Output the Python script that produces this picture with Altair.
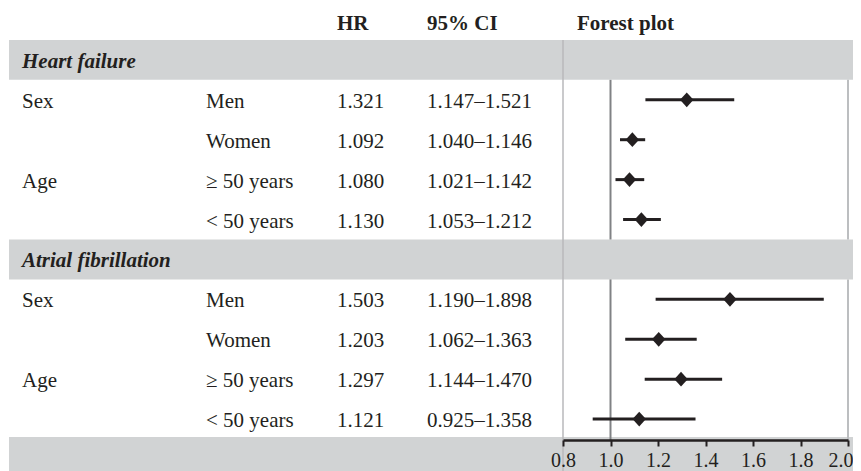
import altair as alt
import pandas as pd

# ---------------- data ----------------
groups = ["Heart failure", "Atrial fibrillation"]
factors = ["Sex", "", "Age", ""]
subgroups = ["Men", "Women", "≥ 50 years", "< 50 years"]
hr = [1.321, 1.092, 1.080, 1.130, 1.503, 1.203, 1.297, 1.121]
lo = [1.147, 1.040, 1.021, 1.053, 1.190, 1.062, 1.144, 0.925]
hi = [1.521, 1.146, 1.142, 1.212, 1.898, 1.363, 1.470, 1.358]
headers = ["HR", "95% CI", "Forest plot"]
ticks = [0.8, 1.0, 1.2, 1.4, 1.6, 1.8, 2.0]

# ---------------- table ----------------
rows = []
group_rows = []
r = 1
k = 0
for g in groups:
    group_rows.append({"row": r, "label": g})
    r += 1
    for j in range(len(subgroups)):
        rows.append({
            "row": r,
            "factor": factors[j],
            "sub": subgroups[j],
            "hr": hr[k], "lo": lo[k], "hi": hi[k],
            "hr_txt": f"{hr[k]:.3f}",
            "ci_txt": f"{lo[k]:.3f}–{hi[k]:.3f}",
        })
        r += 1
        k += 1
df = pd.DataFrame(rows)
gdf = pd.DataFrame(group_rows)
hdf = pd.DataFrame({"row": [0, 0, 0], "label": headers, "col": [0, 1, 2]})

W, H = 845, 432
FONT = "Liberation Serif"
INK = "#231f20"
BAND = "#d1d3d4"

y_scale = alt.Scale(domain=[-0.3, 10.524], reverse=True, nice=False, zero=False)
x_scale = alt.Scale(domain=[0.8, 2.0], range=[555, 840], nice=False, zero=False)
x_axis = alt.Axis(
    values=ticks, format=".1f", orient="bottom", title=None, zindex=2,
    grid=False, domainColor=INK, domainWidth=2.5, tickColor=INK,
    tickWidth=2, tickSize=6, labelFont=FONT, labelFontSize=20,
    labelColor=INK, labelPadding=4, labelFlush=False, labelOverlap=False,
    labelAlign={"condition": {"test": "datum.value >= 1.99", "value": "right"}, "value": "center"},
    labelOffset={"condition": {"test": "datum.value >= 1.99", "value": 5}, "value": 0},
)

bands = pd.DataFrame({"y0": [0.5, 5.5, 10.45], "y1": [1.5, 6.5, 11.4]})
band_layer = alt.Chart(bands).mark_rect(color=BAND).encode(
    x=alt.value(1), x2=alt.value(W),
    y=alt.Y("y0:Q", scale=y_scale, axis=None), y2="y1:Q")

left_line = pd.DataFrame({"x": [0.8], "y0": [0.5], "y1": [11.4]})
ref_lines = pd.DataFrame({"x": [1.0, 1.0], "y0": [1.5, 6.5], "y1": [5.5, 10.524]})
right_lines = pd.DataFrame({"x": [2.0, 2.0], "y0": [1.5, 6.5], "y1": [5.5, 10.524]})

def vrule(d, color, w):
    return alt.Chart(d).mark_rule(color=color, strokeWidth=w).encode(
        x=alt.X("x:Q", scale=x_scale, axis=x_axis),
        y=alt.Y("y0:Q", scale=y_scale, axis=None), y2="y1:Q")

l_left = vrule(left_line, "#b8b9bb", 1.5)
l_ref = vrule(ref_lines, "#808285", 2)
l_right = vrule(right_lines, "#bcbec0", 2)

whisk = alt.Chart(df).mark_rule(color=INK, strokeWidth=3).encode(
    x=alt.X("lo:Q", scale=x_scale, axis=x_axis), x2="hi:Q",
    y=alt.Y("row:Q", scale=y_scale, axis=None))

diamond = alt.Chart(df).mark_point(
    shape="M0,-1.1L1,0L0,1.1L-1,0Z", filled=True, size=180, color=INK, opacity=1
).encode(x=alt.X("hr:Q", scale=x_scale, axis=x_axis),
         y=alt.Y("row:Q", scale=y_scale, axis=None))

def txt(d, field, xpx, bold=False, italic=False, dy=8):
    return alt.Chart(d).mark_text(
        align="left", baseline="alphabetic", dy=dy, font=FONT, fontSize=21,
        color=INK, fontWeight="bold" if bold else "normal",
        fontStyle="italic" if italic else "normal"
    ).encode(x=alt.value(xpx), y=alt.Y("row:Q", scale=y_scale, axis=None),
             text=f"{field}:N")

t_factor = txt(df, "factor", 14)
t_sub = txt(df, "sub", 198)
t_hr = txt(df, "hr_txt", 329)
t_ci = txt(df, "ci_txt", 419)
t_group = txt(gdf, "label", 14, bold=True, italic=True)
t_h1 = txt(hdf[hdf.col == 0], "label", 329, bold=True, dy=10)
t_h2 = txt(hdf[hdf.col == 1], "label", 419, bold=True, dy=10)
t_h3 = txt(hdf[hdf.col == 2], "label", 569, bold=True, dy=10)

chart = alt.layer(
    band_layer, l_left, l_ref, l_right, whisk, diamond,
    t_factor, t_sub, t_hr, t_ci, t_group, t_h1, t_h2, t_h3
).properties(
    width=W, height=H,
    padding={"left": 0, "top": 0, "right": 0, "bottom": 31},
    autosize=alt.AutoSizeParams(type="none"),
    background="white"
).configure_view(stroke=None)

chart.save("out.html", embed_options={"renderer": "svg", "actions": False})
